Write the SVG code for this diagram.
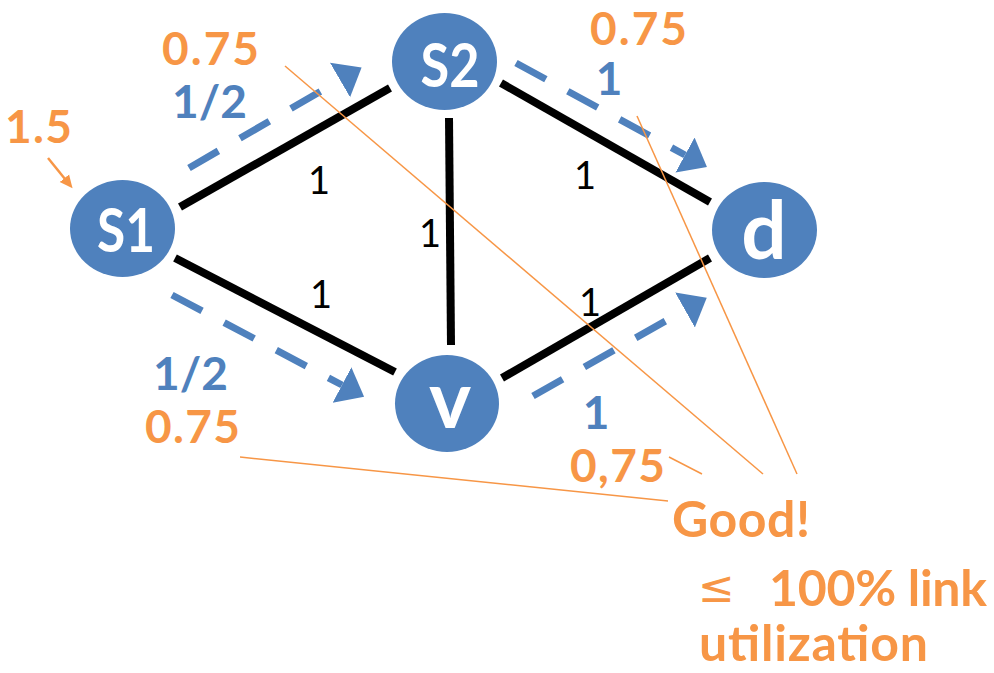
<svg xmlns="http://www.w3.org/2000/svg" width="994" height="673" viewBox="0 0 994 673">
<defs>
<style>
.node{fill:#4F81BD}
.nl{fill:#fff;font-family:Lato,"Open Sans","Liberation Sans",sans-serif;font-weight:700;text-anchor:middle}
.edge{stroke:#000;stroke-width:8;fill:none}
.flow{stroke:#4F81BD;stroke-width:7;fill:none;stroke-dasharray:34 25;marker-end:url(#bh)}
.call{stroke:#F79646;stroke-width:1.5;fill:none}
.el{font-family:Lato,"Open Sans","Liberation Sans",sans-serif;font-size:38px;fill:#000;text-anchor:middle}
.o{font-family:Lato,"Open Sans","Liberation Sans",sans-serif;font-weight:700;font-size:46px;fill:#F79646}
.b{font-family:Lato,"Open Sans","Liberation Sans",sans-serif;font-weight:700;font-size:46px;fill:#4F81BD}
.big{font-family:Lato,"Open Sans","Liberation Sans",sans-serif;font-weight:700;font-size:50px;fill:#F79646}
</style>
<marker id="bh" markerUnits="userSpaceOnUse" markerWidth="26" markerHeight="42" viewBox="0 0 26 42" refX="0" refY="21" orient="auto">
<path d="M0,1 L25,21 L0,41 z" fill="#4F81BD"/>
</marker>
<marker id="oh" markerUnits="userSpaceOnUse" markerWidth="14" markerHeight="14" viewBox="0 0 14 14" refX="1" refY="7" orient="auto">
<path d="M0,1 L13,7 L0,13 z" fill="#F79646"/>
</marker>
</defs>
<rect width="994" height="673" fill="#fff"/>
<g id="connectors">
<line class="edge" x1="180" y1="207" x2="390" y2="88"/>
<line class="edge" x1="175" y1="258" x2="395" y2="372"/>
<line class="edge" x1="449" y1="118" x2="451" y2="345"/>
<line class="edge" x1="501" y1="83" x2="710" y2="202"/>
<line class="edge" x1="502" y1="378" x2="710" y2="258"/>
<line class="flow" x1="189" y1="168" x2="340" y2="80"/>
<line class="flow" x1="516" y1="63" x2="685" y2="155"/>
<line class="flow" x1="172" y1="295" x2="342" y2="385"/>
<line class="flow" x1="533" y1="396" x2="685" y2="310"/>
<line stroke="#F79646" stroke-width="2.5" x1="48" y1="158" x2="65" y2="179" marker-end="url(#oh)"/>
</g>
<g id="node-s1"><ellipse class="node" cx="122.5" cy="228.5" rx="52.5" ry="48.5"/><text class="nl" x="126" y="252" font-size="61" textLength="58" lengthAdjust="spacingAndGlyphs">S1</text></g>
<g id="node-s2"><ellipse class="node" cx="444.5" cy="61.5" rx="52.5" ry="48.5"/><text class="nl" x="450" y="87" font-size="61" textLength="59" lengthAdjust="spacingAndGlyphs">S2</text></g>
<g id="node-d"><ellipse class="node" cx="764.5" cy="230" rx="52.5" ry="48"/><text class="nl" x="764" y="259" font-size="80">d</text></g>
<g id="node-v"><ellipse class="node" cx="447" cy="403.5" rx="52" ry="48.5"/><text class="nl" x="450" y="428" font-size="80">v</text></g>
<g id="edge-labels">
<text class="el" x="319" y="194">1</text>
<text class="el" x="430" y="247">1</text>
<text class="el" x="585" y="189">1</text>
<text class="el" x="321" y="308">1</text>
<text class="el" x="590" y="316">1</text>
</g>
<g id="flow-labels">
<text class="o" x="5" y="143" textLength="67">1.5</text>
<text class="o" x="162" y="65" textLength="97">0.75</text>
<text class="b" x="172" y="118" textLength="75">1/2</text>
<text class="o" x="590" y="45" textLength="97">0.75</text>
<text class="b" x="609" y="95" text-anchor="middle">1</text>
<text class="b" x="153" y="390" textLength="75">1/2</text>
<text class="o" x="145" y="443" textLength="95">0.75</text>
<text class="b" x="596" y="429" text-anchor="middle" font-size="42">1</text>
<text class="o" x="570" y="482" font-size="44" textLength="95">0,75</text>
</g>
<g id="callout">
<line class="call" x1="285" y1="66" x2="763" y2="474"/>
<line class="call" x1="637" y1="116" x2="797" y2="474"/>
<line class="call" x1="240" y1="457" x2="668" y2="501"/>
<line class="call" x1="669" y1="457" x2="702" y2="474"/>
<text class="big" x="672" y="537" textLength="138">Good!</text>
<text x="698" y="602" font-family="DejaVu Sans,sans-serif" font-size="44" fill="#F79646">≤</text>
<text class="big" x="769" y="606" textLength="218">100% link</text>
<text class="big" x="699" y="661" font-size="48" textLength="229">utilization</text>
</g>
</svg>
